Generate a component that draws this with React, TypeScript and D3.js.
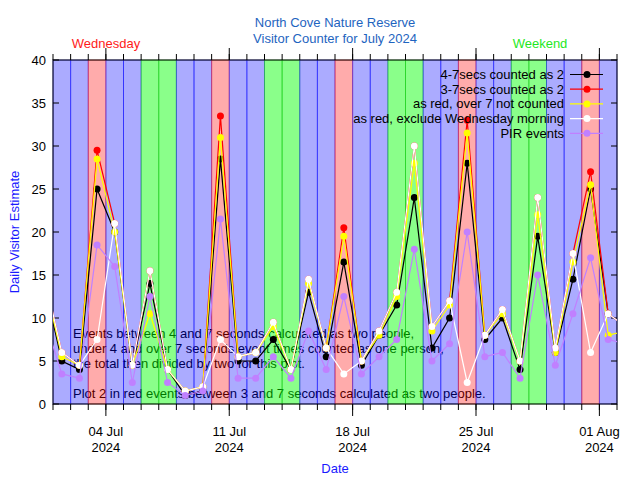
import { useEffect, useRef } from "react";
import * as d3 from "d3";

// one point per day, 30 Jun .. 2 Aug (the outer two are clipped by the frame)
const firstDay = Date.UTC(2024, 5, 30, 12);
const black4to7 = [14, 5, 4, 25, 20, 4.5, 14, 4, 1, 1.5, 28.5, 5, 5, 7.5, 4, 13, 5.5, 16.5, 4.5, 8, 11.5, 24, 6.5, 10, 28, 7.5, 10, 4, 19.5, 6, 14.5, 25, 10.5, 9];
const red3to7 = [15, 6, 4.5, 29.5, 21, 4.5, 15.5, 4, 1.5, 2, 33.5, 5.5, 6, 9.5, 4, 14.5, 6.5, 20.5, 5, 8.5, 13, 30, 9, 12, 33, 8, 11, 5, 24, 6.5, 17.5, 27, 10.5, 9];
const yellowNo7 = [14.5, 5.5, 4.5, 28.5, 20, 4.5, 10.5, 4, 1.5, 2, 31, 5.5, 6, 9, 4, 14, 6.5, 19.5, 5, 8, 12.5, 28, 8.5, 11.5, 31.5, 8, 10.5, 5, 22, 6, 16.5, 25.5, 8, 8.5];
const whiteNoWedAm = [15, 6, 4.5, 7.5, 21, 4.5, 15.5, 4, 1.5, 2, 7.5, 5.5, 6, 9.5, 4, 14.5, 6.5, 3.5, 5, 8.5, 13, 30, 9, 12, 2.5, 8, 11, 5, 24, 6.5, 17.5, 6, 10.5, 9];
const pirEvents = [10, 3.5, 3, 18.5, 16, 2.5, 12.5, 2.5, 1, 1.5, 21.5, 3, 3, 5.5, 3, 8.5, 4, 12.5, 3.5, 5.5, 7.5, 18, 5, 7, 20, 5.5, 6, 3, 15, 4.5, 10.5, 17, 7.5, 7];

const seriesNames = [
  "4-7secs counted as 2",
  "3-7secs counted as 2",
  "as red, over 7 not counted",
  "as red, exclude Wednesday morning",
  "PIR events",
];
const seriesColors = ["#000000", "#ff0000", "#ffff00", "#ffffff", "#c080ff"];
const seriesValues = [black4to7, red3to7, yellowNo7, whiteNoWedAm, pirEvents];

const yTicks = [0, 5, 10, 15, 20, 25, 30, 35, 40];
const titleLines = ["North Cove Nature Reserve", "Visitor Counter for July 2024"];
const noteLines = [
  "Events between 4 and 7 seconds calculated as two people,",
  "under 4 and over 7 seconds event times counted as one person,",
  "the total then divided by two for this plot.",
  "",
  "Plot 2 in red events between 3 and 7 seconds calculated as two people.",
];

const FONT = "'Liberation Sans', Arial, sans-serif";

export default function App() {
  const svgRef = useRef<SVGSVGElement>(null);

  useEffect(() => {
    const svg = svgRef.current;
    if (!svg) return;
    d3.select(svg).selectAll("*").remove();

    const width = 640;
    const height = 480;
    const left = 53, right = 617, top = 60, bottom = 404;

    const x = d3
      .scaleUtc()
      .domain([new Date(Date.UTC(2024, 6, 1)), new Date(Date.UTC(2024, 7, 2))])
      .range([left, right]);
    const y = d3.scaleLinear().domain([0, 40]).range([bottom, top]);

    const root = d3.select(svg).attr("width", width).attr("height", height).style("font-family", FONT);
    root.append("rect").attr("width", width).attr("height", height).attr("fill", "#ffffff");

    // notes first, so the shaded day columns tint them
    const note = root.append("text").attr("font-size", 13).attr("fill", "#000");
    noteLines.forEach((t, i) => {
      note.append("tspan").attr("x", 73).attr("y", 337.5 + i * 15).text(t);
    });

    // day columns
    const days = d3.utcDays(x.domain()[0], x.domain()[1]);
    const kind = (d: Date) => {
      const wd = d.getUTCDay();
      if (wd === 3) return { fill: "#ff0000", op: 0.33, stroke: "#ff0000" };
      if (wd === 0 || wd === 6) return { fill: "#00ff00", op: 0.46, stroke: "#00c000" };
      return { fill: "#0000ff", op: 0.33, stroke: "#0000ff" };
    };
    root
      .append("g")
      .selectAll("rect")
      .data(days)
      .enter()
      .append("rect")
      .attr("x", (d) => x(d))
      .attr("y", top)
      .attr("width", (d) => x(d3.utcDay.offset(d, 1)) - x(d))
      .attr("height", bottom - top)
      .attr("fill", (d) => kind(d).fill)
      .attr("fill-opacity", (d) => kind(d).op)
      .attr("stroke", (d) => kind(d).stroke)
      .attr("stroke-opacity", 0.45)
      .attr("stroke-width", 1);

    // frame
    root
      .append("rect")
      .attr("x", left)
      .attr("y", top)
      .attr("width", right - left)
      .attr("height", bottom - top)
      .attr("fill", "none")
      .attr("stroke", "#000")
      .attr("stroke-width", 1);

    // y ticks, inward on both sides
    const yAxis = root.append("g").attr("font-size", 13).attr("fill", "#000");
    yTicks.forEach((v) => {
      yAxis.append("line").attr("x1", left).attr("x2", left + 6).attr("y1", y(v)).attr("y2", y(v)).attr("stroke", "#000");
      yAxis.append("line").attr("x1", right - 6).attr("x2", right).attr("y1", y(v)).attr("y2", y(v)).attr("stroke", "#000");
      yAxis.append("text").attr("x", 46).attr("y", y(v) + 4.5).attr("text-anchor", "end").text(v);
    });

    // x ticks, outward top and bottom
    const minor = d3.utcDays(x.domain()[0], d3.utcDay.offset(x.domain()[1], 1));
    const major = d3.utcThursdays(x.domain()[0], d3.utcDay.offset(x.domain()[1], 1));
    const xAxis = root.append("g").attr("stroke", "#000");
    minor.forEach((d) => {
      xAxis.append("line").attr("x1", x(d)).attr("x2", x(d)).attr("y1", bottom).attr("y2", bottom + 6);
      xAxis.append("line").attr("x1", x(d)).attr("x2", x(d)).attr("y1", top).attr("y2", top - 6);
    });
    major.forEach((d) => {
      xAxis.append("line").attr("x1", x(d)).attr("x2", x(d)).attr("y1", bottom).attr("y2", bottom + 12);
      xAxis.append("line").attr("x1", x(d)).attr("x2", x(d)).attr("y1", top).attr("y2", top - 12);
    });
    const xLabels = root.append("g").attr("font-size", 13).attr("fill", "#000").attr("text-anchor", "middle");
    major.forEach((d) => {
      xLabels.append("text").attr("x", x(d)).attr("y", 435.5).text(d3.utcFormat("%d %b")(d));
      xLabels.append("text").attr("x", x(d)).attr("y", 451.5).text(d3.utcFormat("%Y")(d));
    });

    // series
    root
      .append("clipPath")
      .attr("id", "plot-clip")
      .append("rect")
      .attr("x", left)
      .attr("y", top)
      .attr("width", right - left)
      .attr("height", bottom - top);
    const plot = root.append("g").attr("clip-path", "url(#plot-clip)");
    const dateAt = (i: number) => new Date(firstDay + i * 86400000);
    const line = d3
      .line<number>()
      .x((_, i) => x(dateAt(i)))
      .y((v) => y(v));
    seriesValues.forEach((vals, s) => {
      plot
        .append("path")
        .attr("d", line(vals) ?? "")
        .attr("fill", "none")
        .attr("stroke", seriesColors[s])
        .attr("stroke-width", 1.2);
      plot
        .append("g")
        .selectAll("circle")
        .data(vals)
        .enter()
        .append("circle")
        .attr("cx", (_, i) => x(dateAt(i)))
        .attr("cy", (v) => y(v))
        .attr("r", 3.5)
        .attr("fill", seriesColors[s]);
    });

    // legend
    const legend = root.append("g").attr("font-size", 13);
    seriesNames.forEach((name, i) => {
      const ly = 74.5 + i * 14.7;
      legend.append("text").attr("x", 564).attr("y", ly + 4.5).attr("text-anchor", "end").attr("fill", "#000").text(name);
      legend.append("line").attr("x1", 570).attr("x2", 603).attr("y1", ly).attr("y2", ly).attr("stroke", seriesColors[i]).attr("stroke-width", 1.2);
      legend.append("circle").attr("cx", 587).attr("cy", ly).attr("r", 3.5).attr("fill", seriesColors[i]);
    });

    // titles
    const mid = (left + right) / 2;
    titleLines.forEach((t, i) => {
      root.append("text").attr("x", mid).attr("y", 27 + i * 16).attr("text-anchor", "middle").attr("font-size", 13).attr("fill", "#1e64c0").text(t);
    });
    root.append("text").attr("x", 106).attr("y", 48).attr("text-anchor", "middle").attr("font-size", 13).attr("fill", "#ff1a1a").text("Wednesday");
    root.append("text").attr("x", 540).attr("y", 48).attr("text-anchor", "middle").attr("font-size", 13).attr("fill", "#1ee81e").text("Weekend");
    root.append("text").attr("x", mid).attr("y", 473).attr("text-anchor", "middle").attr("font-size", 13).attr("fill", "#1a1aff").text("Date");
    root
      .append("text")
      .attr("transform", `translate(18.5,${(top + bottom) / 2}) rotate(-90)`)
      .attr("text-anchor", "middle")
      .attr("font-size", 13)
      .attr("fill", "#1a1aff")
      .text("Daily Visitor Estimate");
  }, []);

  return <svg ref={svgRef} style={{ position: "absolute", left: 0, top: 0, display: "block" }} />;
}
